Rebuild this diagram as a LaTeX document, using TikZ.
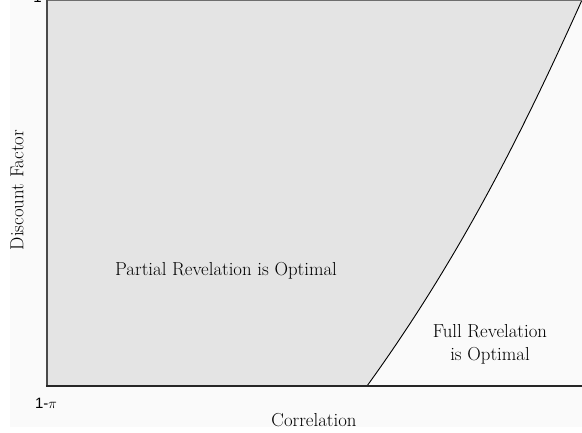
\documentclass[tikz,border=0pt]{standalone}
\usepackage{fontspec}
\newfontfamily\ticksans{Liberation Sans}
\definecolor{bgc}{HTML}{FAFAFA}
\definecolor{regc}{HTML}{E4E4E4}
\definecolor{axc}{HTML}{4A4A4A}
\begin{document}
\begin{tikzpicture}[x=1pt,y=-1pt,
  lbl/.style={font=\fontsize{18.8}{23}\selectfont, align=center, inner sep=0pt},
  tick/.style={font=\ticksans\fontsize{15}{17}\selectfont, inner sep=0pt}]
\useasboundingbox (0,0) rectangle (582,433);
\fill[bgc] (10,0) rectangle (582,427);
% region
\fill[regc] (47,0) -- (47,386) -- (367,386) .. controls (461,256) and (523.5,130) .. (582,0) -- cycle;
\draw[black, line width=0.9pt] (367,386) .. controls (461,256) and (523.5,130) .. (582,0);
% frame
\draw[axc!80, line width=1.6pt] (47,0.6) -- (582,0.6);
\draw[axc, line width=1.3pt] (47,0) -- (47,386);
\draw[black!85, line width=2pt] (46.35,386) -- (582,386);
% labels
\node[lbl] (partial) at (226,271) {Partial Revelation is Optimal};
\node[lbl] (full) at (490,344) {Full Revelation\\is Optimal};
\node[lbl] (xlab) at (314,420) {Correlation};
\node[lbl, rotate=90] (ylab) at (17,190) {Discount Factor};
\node[tick] (tpi) at (46,403) {1-$\pi$};
\node[tick] (tone) at (586,403) {1};
\node[tick] (ttop) at (37.5,-3) {1};
\end{tikzpicture}
\end{document}
